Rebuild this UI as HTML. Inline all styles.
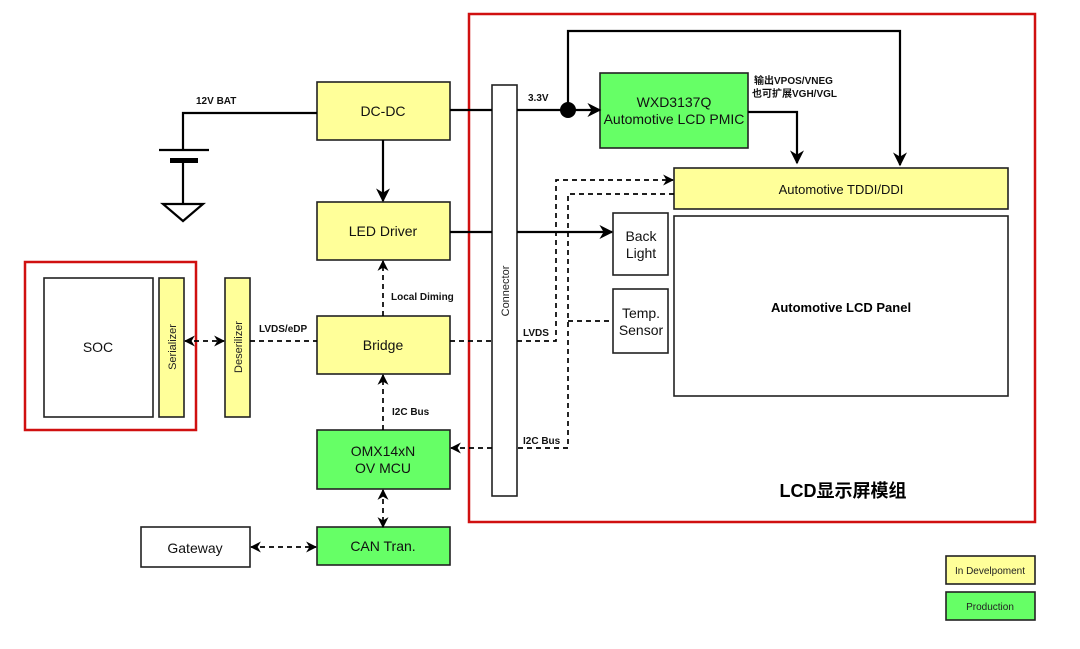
<!DOCTYPE html>
<html><head><meta charset="utf-8"><style>
html,body{margin:0;padding:0;background:#fff;}
svg text{font-family:"Liberation Sans","Noto Sans CJK SC",sans-serif;}
</style></head><body>
<svg width="1080" height="644" viewBox="0 0 1080 644" xmlns="http://www.w3.org/2000/svg">
<defs>
<marker id="a" viewBox="0 0 10 10" refX="9" refY="5" markerWidth="11" markerHeight="11" orient="auto-start-reverse" markerUnits="userSpaceOnUse"><path d="M0,0 L10,5 L0,10 L3,5 Z" fill="#000"/></marker>
<marker id="b" viewBox="0 0 10 10" refX="9" refY="5" markerWidth="14" markerHeight="14" orient="auto-start-reverse" markerUnits="userSpaceOnUse"><path d="M0,0 L10,5 L0,10 L3,5 Z" fill="#000"/></marker>
</defs>
<g fill="none" stroke="#d01010" stroke-width="2.5">
<rect x="469" y="14" width="566" height="508"/>
<rect x="25" y="262" width="171" height="168"/>
</g>
<g stroke="#222" stroke-width="1.6">
<rect x="317" y="82" width="133" height="58" fill="#ffff99"/>
<rect x="317" y="202" width="133" height="58" fill="#ffff99"/>
<rect x="317" y="316" width="133" height="58" fill="#ffff99"/>
<rect x="317" y="430" width="133" height="59" fill="#66ff66"/>
<rect x="317" y="527" width="133" height="38" fill="#66ff66"/>
<rect x="141" y="527" width="109" height="40" fill="#fff"/>
<rect x="492" y="85" width="25" height="411" fill="#fff"/>
<rect x="600" y="73" width="148" height="75" fill="#66ff66"/>
<rect x="674" y="168" width="334" height="41" fill="#ffff99"/>
<rect x="674" y="216" width="334" height="180" fill="#fff"/>
<rect x="613" y="213" width="55" height="62" fill="#fff"/>
<rect x="613" y="289" width="55" height="64" fill="#fff"/>
<rect x="44" y="278" width="109" height="139" fill="#fff"/>
<rect x="159" y="278" width="25" height="139" fill="#ffff99"/>
<rect x="225" y="278" width="25" height="139" fill="#ffff99"/>
<rect x="946" y="556" width="89" height="28" fill="#ffff99"/>
<rect x="946" y="592" width="89" height="28" fill="#66ff66"/>
</g>
<g stroke="#000" stroke-width="2.2" fill="none">
<path d="M317,113 H183 V150"/>
<path d="M159,150 H209"/>
<path d="M183,162 V204"/>
<path d="M163,204 H203 L183,221 Z"/>
<path d="M450,110 H492 M517,110 H600" marker-end="url(#b)"/>
<path d="M568,110 V31 H900 V165" marker-end="url(#b)"/>
<path d="M748,112 H797 V163" marker-end="url(#b)"/>
<path d="M383,140 V201" marker-end="url(#b)"/>
<path d="M450,232 H492 M517,232 H612" marker-end="url(#b)"/>
</g>
<rect x="170" y="158" width="28" height="5" fill="#000"/>
<circle cx="568" cy="110" r="8" fill="#000"/>
<g stroke="#000" stroke-width="1.7" fill="none" stroke-dasharray="5,4">
<path d="M383,316 V261" marker-end="url(#a)"/>
<path d="M383,430 V375" marker-end="url(#a)"/>
<path d="M383,490 V527" marker-start="url(#a)" marker-end="url(#a)"/>
<path d="M251,547 H316" marker-start="url(#a)" marker-end="url(#a)"/>
<path d="M185,341 H224" marker-start="url(#a)" marker-end="url(#a)"/>
<path d="M250,341 H317"/>
<path d="M450,341 H492 M517,341 H556 V180 H673" marker-end="url(#a)"/>
<path d="M674,194 H568 V448 H517 M492,448 H451" marker-end="url(#a)"/>
<path d="M568,321 H613"/>
</g>
<g font-size="14" text-anchor="middle" fill="#111">
<text x="383" y="116">DC-DC</text>
<text x="383" y="236">LED Driver</text>
<text x="383" y="350">Bridge</text>
<text x="383" y="456">OMX14xN</text>
<text x="383" y="473">OV MCU</text>
<text x="383" y="551">CAN Tran.</text>
<text x="195" y="553">Gateway</text>
<text x="98" y="352">SOC</text>
<text x="674" y="107">WXD3137Q</text>
<text x="674" y="124">Automotive LCD PMIC</text>
<text x="841" y="194" font-size="13">Automotive TDDI/DDI</text>
<text x="641" y="241">Back</text>
<text x="641" y="258">Light</text>
<text x="641" y="318">Temp.</text>
<text x="641" y="335">Sensor</text>
</g>
<text x="841" y="312" font-size="13" font-weight="bold" text-anchor="middle">Automotive LCD Panel</text>
<text x="843" y="497" font-size="18" font-weight="bold" text-anchor="middle">LCD显示屏模组</text>
<g font-size="10" font-weight="bold" fill="#111">
<text x="196" y="104">12V BAT</text>
<text x="528" y="101">3.3V</text>
<text x="754" y="84">输出VPOS/VNEG</text>
<text x="752" y="97">也可扩展VGH/VGL</text>
<text x="391" y="300">Local Diming</text>
<text x="259" y="332">LVDS/eDP</text>
<text x="392" y="415">I2C Bus</text>
<text x="523" y="336">LVDS</text>
<text x="523" y="444">I2C Bus</text>
</g>
<g font-size="11" fill="#222" text-anchor="middle">
<text transform="translate(509,291) rotate(-90)">Connector</text>
<text transform="translate(176,347) rotate(-90)">Serializer</text>
<text transform="translate(242,347) rotate(-90)">Deserilizer</text>
<text x="990" y="574" font-size="10">In Develpoment</text>
<text x="990" y="610" font-size="10">Production</text>
</g>
</svg>
</body></html>
